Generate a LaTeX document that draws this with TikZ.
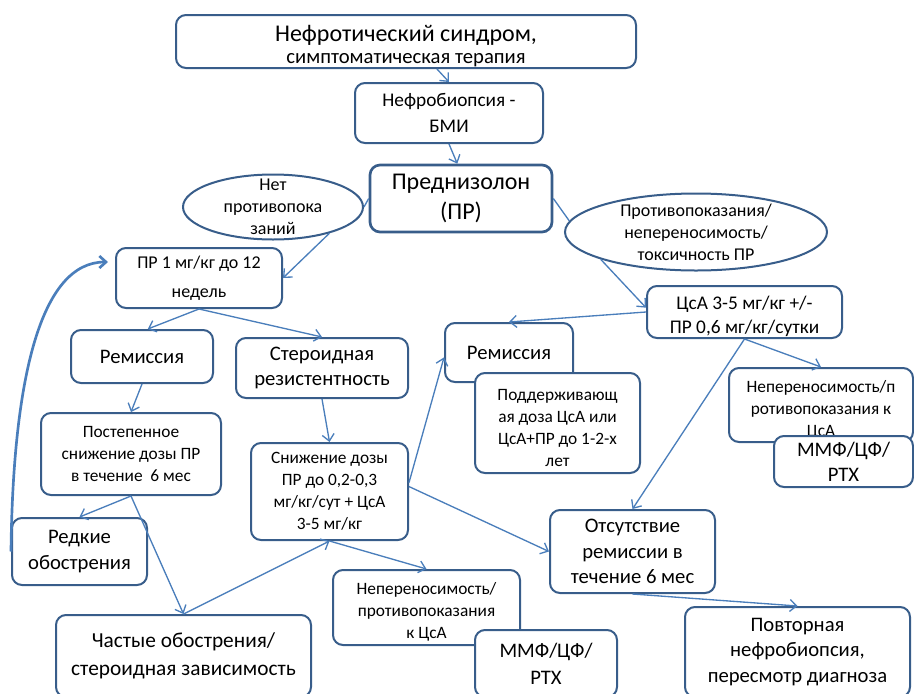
\documentclass[tikz,border=0pt]{standalone}
\usepackage{fontspec}
\setmainfont{Carlito}
\usetikzlibrary{calc}
\usetikzlibrary{arrows.meta}
\usetikzlibrary{shapes.geometric}
\definecolor{boxline}{RGB}{56,93,138}
\definecolor{arrline}{RGB}{74,126,187}
\newcommand{\dn}[1]{\raisebox{-3.5pt}[\height][\depth]{#1}}
\tikzset{every picture/.style={line width=0.75pt}}
\tikzset{
  rbox/.style={draw=boxline, fill=white, line width=1.5pt, rounded corners=7.5pt, align=center, inner sep=1pt},
  obox/.style={draw=boxline, fill=white, line width=1.5pt, ellipse, align=center, inner xsep=0pt, inner ysep=-8pt},
  fbig/.style={font=\fontsize{18}{22.5}\selectfont},
  fmid/.style={font=\fontsize{15.5}{19}\selectfont},
  fsml/.style={font=\fontsize{13}{16.5}\selectfont},
  link/.style={draw=arrline, line width=1pt},
  arr/.style={link, -{Straight Barb[length=5pt,width=9pt]}},
}

\begin{document}
\begin{tikzpicture}[x=0.75pt,y=0.75pt,yscale=-1,xscale=1]
\useasboundingbox (0,0) rectangle (914,693);

%Rounded Rect: top
\draw (406,41.5) node [rbox, font=\fontsize{18}{16.5}\selectfont, minimum width=345pt, minimum height=39.75pt] (synd) {\dn{Нефротический синдром,}\\\dn{\fontsize{15.5}{16.5}\selectfont симптоматическая терапия}};
\draw (449,113) node [rbox, font=\fontsize{14.5}{19}\selectfont, minimum width=141pt, minimum height=45pt] (biopsy) {Нефробиопсия -\\БМИ};
\draw (461,198.5) node [rbox, fbig, line width=2pt, minimum width=136.5pt, minimum height=50.25pt] (pred) {Преднизолон\\(ПР)};
%Ellipses
\draw (273,207) node [obox, font=\fontsize{13.5}{16.5}\selectfont, minimum width=135pt, minimum height=48.75pt] (noc) {Нет\\противопока\\заний};
\draw (696,232) node [obox, font=\fontsize{13.5}{16.5}\selectfont, minimum width=196.5pt, minimum height=57.75pt] (contra) {Противопоказания/\\непереносимость/\\токсичность ПР};
%Rounded Rect: second row
\draw (199,278) node [rbox, font=\fontsize{13.5}{22}\selectfont, minimum width=124.5pt, minimum height=45pt] (pr1) {ПР 1 мг/кг до 12\\недель};
\draw (744.5,312) node [rbox, font=\fontsize{14.5}{18}\selectfont, minimum width=146.25pt, minimum height=39pt] (csa) {\dn{ЦсА 3-5 мг/кг +/-}\\\dn{ПР 0,6 мг/кг/сутки}};
\draw (142,356.5) node [rbox, fmid, minimum width=106.5pt, minimum height=39.75pt] (rem1) {Ремиссия};
\draw (322,368) node [rbox, fmid, minimum width=129pt, minimum height=45pt] (ster) {Стероидная\\резистентность};
\draw (509,352.5) node [rbox, fmid, minimum width=96pt, minimum height=44.25pt] (rem2) {Ремиссия};
\draw (557.5,423) node [rbox, fsml, minimum width=123.75pt, minimum height=75pt] (supp) {\dn{Поддерживающ}\\\dn{ая доза ЦсА или}\\\dn{ЦсА+ПР до 1-2-х}\\\dn{лет}};
\draw (821,405) node [rbox, fsml, minimum width=138pt, minimum height=55.5pt] (intol1) {\dn{Непереносимость/п}\\\dn{ротивопоказания к}\\\dn{ЦсА}};
\draw (843.5,461.5) node [rbox, fmid, minimum width=104.25pt, minimum height=38.25pt] (mmf1) {ММФ/ЦФ/\\РТХ};
%Rounded Rect: lower part
\draw (131,454) node [rbox, fsml, minimum width=135pt, minimum height=61.5pt] (grad) {Постепенное\\снижение дозы ПР\\в течение~~6 мес};
\draw (329.5,491.5) node [rbox, fsml, minimum width=117.75pt, minimum height=72.75pt] (sniz) {Снижение дозы\\ПР до 0,2-0,3\\мг/кг/сут + ЦсА\\3-5 мг/кг};
\draw (79.5,551.5) node [rbox, fmid, minimum width=101.25pt, minimum height=50.25pt] (rare) {Редкие\\обострения};
\draw (183.5,656) node [rbox, font=\fontsize{16}{21}\selectfont, minimum width=191.25pt, minimum height=61.5pt] (freq) {Частые обострения/\\стероидная зависимость};
\draw (426.5,607.5) node [rbox, fsml, minimum width=140.25pt, minimum height=56.25pt] (intol2) {\dn{Непереносимость/}\\\dn{противопоказания}\\\dn{к ЦсА}};
\draw (546,663.5) node [rbox, font=\fontsize{15.5}{20}\selectfont, minimum width=106.5pt, minimum height=50.25pt] (mmf2) {ММФ/ЦФ/\\РТХ};
\draw (632.5,551.5) node [rbox, fmid, minimum width=123.75pt, minimum height=62.25pt] (abs) {Отсутствие\\ремиссии в\\течение 6 мес};
\draw (797.5,652) node [rbox, fmid, minimum width=168.75pt, minimum height=67.5pt] (rep) {Повторная\\нефробиопсия,\\пересмотр диагноза};
\coordinate (back) at (108,262);

%Straight Lines
\draw [arr] ($(synd.south west)!0.567!(synd.south east)$) -- (biopsy.north);
\draw [arr] (biopsy.south) -- ($(pred.north west)!0.48!(pred.north east)$);
\draw [link] (pred.west) -- (noc.east);
\draw [arr] (noc.-25) -- (pr1.east);
\draw [link] (pred.east) -- (contra.175);
\draw [arr] (contra.-164) -- ($(csa.north west)!0.42!(csa.south west)$);
\draw [arr] (pr1.south) -- ($(rem1.north west)!0.54!(rem1.north east)$);
\draw [arr] (pr1.south) -- (ster.north);
\draw [arr] (rem1.south) -- (grad.north);
\draw [arr] (ster.south) -- (sniz.north);
\draw [arr] (grad.south) -- (rare.north);
\draw [arr] (grad.south) -- (freq.north);
\draw [arr] (freq.north) -- (sniz.south);
\draw [arr] (sniz.south) -- (intol2.north);
\draw [arr] ($(sniz.north east)!0.41!(sniz.south east)$) -- ($(rem2.north west)!0.58!(rem2.south west)$);
\draw [arr] ($(sniz.north east)!0.45!(sniz.south east)$) -- (abs.west);
\draw [arr] (csa.west) -- (rem2.north);
\draw [arr] (csa.south) -- (intol1.north);
\draw [arr] (csa.south) -- (abs.north);
\draw [arr] (abs.south) -- (rep.north);
%Curve back
\draw [arr, line width=2pt] (rare.west) .. controls (13,380) and (40,262) .. (back);

\end{tikzpicture}
\end{document}
